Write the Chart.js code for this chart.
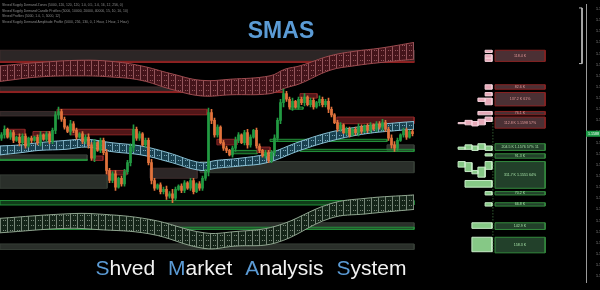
<!DOCTYPE html>
<html>
<head>
<meta charset="utf-8">
<script src="https://cdn.jsdelivr.net/npm/chart.js@4.4.0/dist/chart.umd.min.js"></script>
<style>
  html, body { margin: 0; padding: 0; background: #000; overflow: hidden; }
</style>
</head>
<body>
<canvas id="smas" width="600" height="290"></canvas>
<script>
// ---- price data (points, 1.1588 = 11588) ----
const firstOpen = 11584;
const closes = [
  11587,11592,11585,11589,11582,11585,11580,11586,11577,11584,
  11582,11585,11580,11587,11583,11588,11581,11591,11605,11608,
  11601,11594,11590,11597,11591,11585,11588,11581,11585,11578,
  11566,11580,11573,11582,11571,11555,11546,11552,11540,11548,
  11543,11554,11562,11576,11592,11584,11588,11578,11582,11562,
  11546,11539,11542,11536,11538,11532,11534,11530,11538,11541,
  11537,11544,11539,11546,11536,11543,11539,11548,11554,11607,
  11600,11587,11594,11580,11575,11573,11569,11575,11582,11587,
  11580,11589,11578,11585,11591,11577,11573,11568,11571,11564,
  11571,11584,11600,11616,11624,11619,11612,11617,11612,11619,
  11616,11621,11614,11618,11612,11616,11619,11614,11617,11610,
  11605,11598,11592,11596,11589,11592,11587,11592,11589,11594,
  11590,11595,11591,11596,11592,11597,11594,11598,11592,11584,
  11578,11575,11582,11587,11591,11585,11590,11588
];
const wicks = [
  2,3,1,2,2,1,3,2,2,1, 2,1,2,3,1,2,2,2,3,4, 2,2,1,3,2,2,1,2,2,3,
  2,3,1,2,2,3,2,2,3,1, 2,2,2,3,4,2,2,1,2,2, 3,2,1,2,2,3,2,4,2,1,
  2,2,1,2,2,1,2,2,2,4, 3,2,2,1,2,2,1,2,3,2, 1,2,3,2,1,2,2,1,2,2,
  2,3,2,3,4,2,2,3,1,2, 2,3,1,2,2,1,3,2,2,3, 2,1,2,2,1,2,2,1,2,3,
  2,1,2,2,1,2,2,3,2,2, 3,3,2,1,2,2,1,2
];

// ---- moving average ribbons ----
const redBandX      = [0, 13, 27, 37, 47, 57, 67, 77, 90, 95, 100, 110, 118, 127, 138];
const redBandTop    = [11649,11652,11654,11653,11649,11642,11636,11637,11640,11646,11649,11658,11662,11665,11670];
const redBandBottom = [11635,11639,11640,11639,11636,11628,11622,11623,11624,11629,11633,11645,11649,11652,11655];

const blueBandX      = [0, 7, 13, 22, 29, 37, 47, 56, 67, 72, 80, 89, 100, 111, 122, 133, 138];
const blueBandTop    = [11577,11578,11580,11582,11583,11580,11577,11571,11562,11564,11566,11570,11581,11590,11595,11598,11599];
const blueBandBottom = [11569,11571,11573,11574,11576,11572,11569,11563,11555,11557,11559,11562,11573,11582,11588,11591,11592];

const greenBandX      = [0, 22, 32, 50, 68, 78, 92, 110, 122, 138];
const greenBandTop    = [11512,11516,11516,11511,11499,11500,11505,11525,11530,11533];
const greenBandBottom = [11499,11503,11502,11498,11485,11487,11490,11512,11516,11520];

// ---- supply / demand zones: [fromBar, toBar, top, bottom] ----
const redZones = [
  [19,69,11610,11605],[2.3,8.3,11592,11587],[11,16.7,11590,11586],[23.3,44.3,11592,11587],
  [31,34.3,11568,11564],[35.7,42.3,11555,11551],[72.3,79,11583,11578],[85.7,90,11576,11571],
  [100,105.7,11624,11620],[112.3,138,11603,11597]
];
const greyRedZones = [
  [0,138,11663,11653],[0,94.3,11630,11625],[0,18.3,11608,11604],[50,65.7,11557,11548]
];
const redLines = [[0,138,11653,11652],[0,94.3,11626,11625]];
const greyZones = [
  [0,29,11569,11564],[0,35.7,11551,11539],[66.7,138,11563,11553],[129,138,11578,11573],
  [50,138,11508,11503],[0,138,11489,11484]
];
const greenZones = [
  [0,138,11528,11524],[0,138,11504,11502],[90,129,11583,11581],[100,138,11574,11572],
  [77.7,85.7,11573,11570],[96.7,101,11612,11610],[0,29,11565,11564]
];

// ---- profile boxes on the right: [top, bottom] ----
const supplyBoxes  = [[11663,11653],[11632,11628],[11625,11613],[11608,11605],[11603,11593]];
const supplyLabels = ['118.4 K','82.6 K','137.2 K 61%','76.1 K','112.8 K 1.1598 57%'];
const demandBoxes  = [[11579,11573],[11570,11566],[11563,11539],[11536,11533],[11526,11523],[11508,11502],[11495,11481]];
const demandLabels = ['204.5 K 1.1576 57% 11','91.3 K','311.7 K 1.1551 64%','70.2 K','66.8 K','142.9 K','158.3 K'];

// profile steps: [fromBar, toBar, top, bottom]
const supplyMarks = [
  [161.7,164,11663,11661],[161.7,164,11659,11656],[161.7,164,11656,11653],[161.7,164,11632,11628],
  [161.7,164,11625,11622],[159.3,161.7,11620,11617],[161.7,164,11620,11614],[159.3,164,11608,11605],
  [152.7,155,11598,11597],[155,157.3,11600,11596],[157.3,159.3,11599,11595],[159.3,161.7,11601,11596],
  [161.7,164,11603,11599]
];
const demandMarks = [
  [152.7,155,11576,11574],[155,157.3,11578,11574],[157.3,159.3,11577,11573],[159.3,161.7,11579,11574],
  [161.7,164,11577,11573],[161.7,164,11570,11568],[152.7,155,11563,11558],[155,157.3,11562,11554],
  [157.3,159.3,11555,11552],[159.3,161.7,11558,11549],[161.7,164,11563,11556],[155,164,11546,11540],
  [161.7,164,11536,11533],[161.7,164,11526,11523],[157.3,164,11508,11503],[157.3,164,11495,11482]
];

// ---- axes ----
const yTicks = [11460,11470,11480,11490,11500,11510,11520,11530,11540,11550,11560,11570,11580,
                11590,11600,11610,11620,11630,11640,11650,11660,11670,11680,11690,11700];
const xTickBars = [10,23.3,34.3,46.7,59,71.3,83.5,95.7,107.7,120,132.3,144.5,156.7,169,181.3];
const xTickLabels = ['3 Nov 2020','3 Nov 16:00','4 Nov 00:00','4 Nov 08:00','4 Nov 16:00','5 Nov 00:00',
  '5 Nov 08:00','5 Nov 16:00','6 Nov 00:00','6 Nov 08:00','6 Nov 16:00','9 Nov 00:00','9 Nov 08:00',
  '9 Nov 16:00','10 Nov 00:00'];

const legendLines = [
  'Shved Supply Demand Zones (5000, 120, 120, 120, 1.0, 0.5, 1.0, 16, 12, 256, 0)',
  'Shved Supply Demand Candle Profiles (5000, 10000, 20000, 40000, 15, 10, 10, 10)',
  'Shved Profiles (5000, 1.0, 1, 5000, 12)',
  'Shved Supply Demand Amplitude Profile (5000, 256, 130, 0, 1 Hour, 1 Hour, 1 Hour)'
];
const titleWords = ['Shved', 'Market', 'Analysis', 'System'];

const FONT = '"Liberation Sans", Arial, sans-serif';
const BOX_X0 = 165, BOX_X1 = 181.7;

const canvas = document.getElementById('smas');
const ctx = canvas.getContext('2d');

// grid texture used inside the ribbons
function ribbonPattern(base, line) {
  const c = document.createElement('canvas');
  c.width = 7; c.height = 5;
  const g = c.getContext('2d');
  g.fillStyle = base; g.fillRect(0, 0, 7, 5);
  g.fillStyle = line;
  g.fillRect(0, 0, 1, 5);
  g.fillRect(3, 0, 1, 1);
  g.fillRect(5, 0, 1, 1);
  return ctx.createPattern(c, 'repeat');
}

function ribbon(xs, top, bottom, edge, pattern) {
  const a = {
    type: 'line', data: xs.map((x, i) => ({ x: x, y: top[i] })),
    borderColor: edge, borderWidth: 1, pointRadius: 0, tension: 0.4, fill: false, order: 40
  };
  const b = {
    type: 'line', data: xs.map((x, i) => ({ x: x, y: bottom[i] })),
    borderColor: edge, borderWidth: 1, pointRadius: 0, tension: 0.4,
    fill: '-1', backgroundColor: pattern, order: 40
  };
  return [a, b];
}

function rect(z, fillColor, border, order) {
  return {
    type: 'line',
    data: [{x: z[0], y: z[2]}, {x: z[1], y: z[2]}, {x: z[1], y: z[3]}, {x: z[0], y: z[3]}, {x: z[0], y: z[2]}],
    fill: 'shape', backgroundColor: fillColor, borderColor: border, borderWidth: 1,
    pointRadius: 0, tension: 0, order: order
  };
}

// candles
const opens = closes.map((c, i) => i === 0 ? firstOpen : closes[i - 1]);
const upCol = '#229a42', downCol = '#e2733c';
const candleCols = closes.map((c, i) => c >= opens[i] ? upCol : downCol);

const datasets = [];
greyRedZones.forEach(z => datasets.push(rect(z, 'rgba(46,40,40,0.95)', 'rgba(60,44,44,1)', 70)));
greyZones.forEach(z => datasets.push(rect(z, 'rgba(44,50,44,0.95)', 'rgba(54,62,54,1)', 70)));
redLines.forEach(z => datasets.push(rect(z, '#8e2222', '#8e2222', 65)));
datasets.push(...ribbon(redBandX, redBandTop, redBandBottom, '#9c4b4f', ribbonPattern('#44141a', 'rgba(225,150,155,0.5)')));
datasets.push(...ribbon(greenBandX, greenBandTop, greenBandBottom, '#8fa58f', ribbonPattern('#142418', 'rgba(200,215,200,0.55)')));
redZones.forEach(z => datasets.push(rect(z, 'rgba(95,26,28,0.85)', '#8c2626', 50)));
greenZones.forEach(z => datasets.push(rect(z, 'rgba(30,110,45,0.55)', '#23903a', 50)));
datasets.push(...ribbon(blueBandX, blueBandTop, blueBandBottom, '#88c0d4', ribbonPattern('#1a4150', 'rgba(170,220,238,0.65)')));

supplyBoxes.forEach(b => datasets.push(rect([BOX_X0, BOX_X1, b[0], b[1]], '#4b3034', '#8a2323', 30)));
demandBoxes.forEach(b => datasets.push(rect([BOX_X0, BOX_X1, b[0], b[1]], '#22402a', '#348a3e', 30)));
supplyMarks.forEach(m => datasets.push(rect(m, '#e6a9b8', '#f4d0da', 30)));
demandMarks.forEach(m => datasets.push(rect(m, '#86c886', '#c8ecc8', 30)));

datasets.push({
  type: 'line', data: [{x: 164.3, y: 11600}, {x: 164.3, y: 11481}],
  borderColor: 'rgba(90,170,90,0.8)', borderWidth: 1, borderDash: [1, 2], pointRadius: 0, order: 20
});
datasets.push({
  type: 'line', data: [{x: 193, y: 11701}, {x: 194, y: 11701}, {x: 194, y: 11651}, {x: 193, y: 11651}],
  borderColor: '#bbbbbb', borderWidth: 1, pointRadius: 0, tension: 0, order: 20
});

datasets.push({
  type: 'bar', grouped: false, barThickness: 1, order: 6,
  data: closes.map((c, i) => ({ x: i + 0.5, y: [Math.min(c, opens[i]) - (wicks[i] || 1), Math.max(c, opens[i]) + (wicks[i] || 1)] })),
  backgroundColor: candleCols
});
datasets.push({
  type: 'bar', grouped: false, barThickness: 2, order: 5,
  data: closes.map((c, i) => ({ x: i + 0.5, y: c === opens[i] ? [c - 0.5, c + 0.5] : [opens[i], c] })),
  backgroundColor: candleCols
});

const textPlugin = {
  id: 'textPlugin',
  beforeDraw(chart) {
    const g = chart.ctx;
    g.save();
    g.fillStyle = '#000';
    g.fillRect(0, 0, chart.width, chart.height);
    g.restore();
  },
  afterDraw(chart) {
    const g = chart.ctx;
    const xs = chart.scales.x, ys = chart.scales.y;
    g.save();

    // profile box labels
    g.font = '3.6px ' + FONT;
    g.textAlign = 'center';
    g.textBaseline = 'middle';
    const cx = (xs.getPixelForValue(BOX_X0) + xs.getPixelForValue(BOX_X1)) / 2;
    supplyBoxes.forEach((b, i) => {
      g.fillStyle = '#e39a9a';
      g.fillText(supplyLabels[i], cx, ys.getPixelForValue((b[0] + b[1]) / 2));
    });
    demandBoxes.forEach((b, i) => {
      g.fillStyle = '#a6e0a6';
      g.fillText(demandLabels[i], cx, ys.getPixelForValue((b[0] + b[1]) / 2));
    });

    // indicator legend
    g.textAlign = 'left';
    g.font = '3.4px ' + FONT;
    g.fillStyle = '#8c8c8c';
    legendLines.forEach((t, i) => g.fillText(t, 2, 5 + i * 5.6));

    // title
    g.font = 'bold 23px ' + FONT;
    g.textAlign = 'center';
    g.textBaseline = 'alphabetic';
    g.fillStyle = '#5b9bd5';
    g.fillText('SMAS', 281, 38);

    // bottom caption
    g.font = '21px ' + FONT;
    g.textAlign = 'left';
    const gap = 13;
    let total = -gap;
    titleWords.forEach(w => { total += g.measureText(w).width + gap; });
    let x = 251 - total / 2;
    titleWords.forEach(w => {
      g.fillStyle = '#5b9bd5';
      g.fillText(w[0], x, 275);
      const w0 = g.measureText(w[0]).width;
      g.fillStyle = '#f2f2f2';
      g.fillText(w.slice(1), x + w0, 275);
      x += g.measureText(w).width + gap;
    });

    // last price tag
    const last = closes[closes.length - 1];
    const py = ys.getPixelForValue(last);
    g.fillStyle = '#1c9a46';
    g.fillRect(chart.chartArea.right, py - 3, 14, 6);
    g.fillStyle = '#ffffff';
    g.font = '3.6px ' + FONT;
    g.textBaseline = 'middle';
    g.fillText((last / 10000).toFixed(4), chart.chartArea.right + 2, py);
    g.restore();
  }
};

new Chart(ctx, {
  type: 'bar',
  data: { datasets: datasets },
  options: {
    responsive: false,
    animation: false,
    devicePixelRatio: 1,
    layout: { padding: 0 },
    plugins: { legend: { display: false }, tooltip: { enabled: false } },
    scales: {
      x: {
        type: 'linear', min: 0, max: 586 / 3, offset: false,
        grid: { display: false }, border: { display: false },
        afterFit: s => { s.height = 8; },
        afterBuildTicks: s => { s.ticks = xTickBars.map(v => ({ value: v })); },
        ticks: {
          autoSkip: false, maxRotation: 0, padding: 2, color: '#9a9a9a',
          font: { size: 3.6, family: FONT },
          callback: (v, i) => xTickLabels[i]
        }
      },
      y: {
        type: 'linear', position: 'right', min: 11454.8, max: 11704.4,
        grid: { display: false }, border: { display: true, color: '#9a9a9a', width: 1 },
        afterFit: s => { s.width = 14; },
        afterBuildTicks: s => { s.ticks = yTicks.map(v => ({ value: v })); },
        ticks: {
          padding: 2, color: '#9a9a9a', font: { size: 3.6, family: FONT },
          callback: v => (v / 10000).toFixed(4)
        }
      }
    }
  },
  plugins: [textPlugin]
});
</script>
</body>
</html>
